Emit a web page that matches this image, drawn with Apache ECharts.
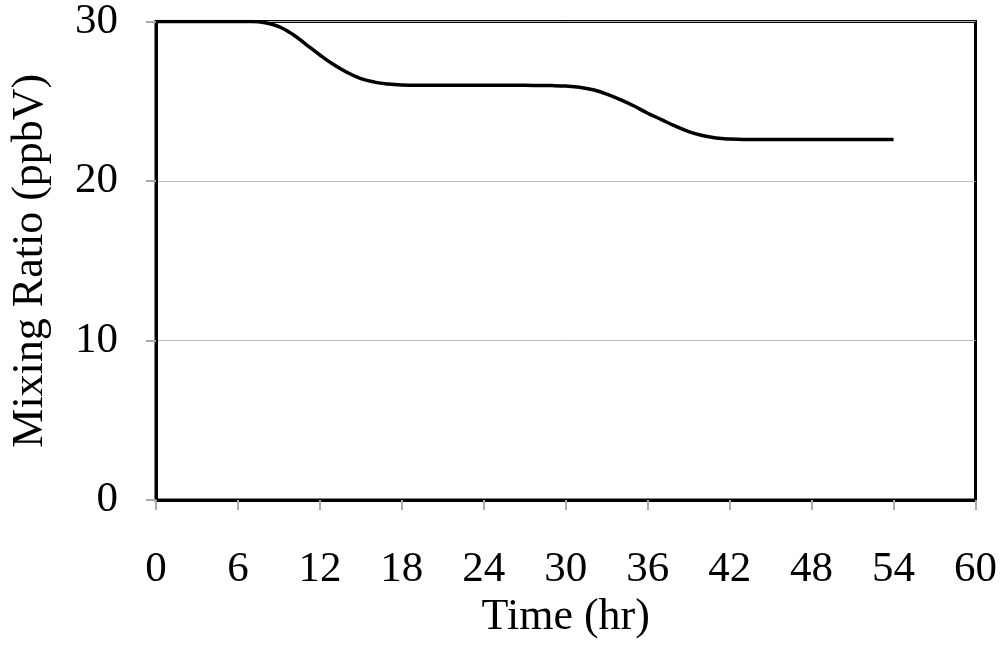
<!DOCTYPE html>
<html>
<head>
<meta charset="utf-8">
<script src="https://cdn.jsdelivr.net/npm/echarts@6/dist/echarts.min.js"></script>
<style>
html,body{margin:0;padding:0;background:#fff;}
#chart{width:1000px;height:667px;}
</style>
</head>
<body>
<div id="chart"></div>
<script>
const hours = [0,1,2,3,4,5,6,7,8,9,10,11,12,13,14,15,16,17,18,19,20,21,22,23,24,25,26,27,28,29,30,31,32,33,34,35,36,37,38,39,40,41,42,43,44,45,46,47,48,49,50,51,52,53,54];
const mixingRatio = [30,30,30,30,30,30,30,30,29.92,29.68,29.2,28.55,27.9,27.3,26.8,26.42,26.2,26.08,26.02,26.0,26.0,26.0,26.0,26.0,26.0,26.0,26.0,26.0,25.99,25.98,25.95,25.88,25.72,25.45,25.1,24.7,24.25,23.85,23.45,23.1,22.85,22.7,22.63,22.6,22.6,22.6,22.6,22.6,22.6,22.6,22.6,22.6,22.6,22.6,22.6];
const xTicks = [0,6,12,18,24,30,36,42,48,54,60];
const yTicks = [0,10,20,30];

const font = 'Liberation Serif';
const chart = echarts.init(document.getElementById('chart'));
chart.setOption({
  animation: false,
  backgroundColor: '#fff',
  grid: {left: 153, right: 24, top: 18, bottom: 167, show: true, borderColor: '#000', borderWidth: 3, backgroundColor: 'transparent'},
  xAxis: {
    type: 'value', min: xTicks[0], max: xTicks[xTicks.length-1], interval: 6,
    name: 'Time (hr)', nameLocation: 'middle', nameGap: 86,
    nameTextStyle: {fontFamily: font, fontSize: 44, color: '#000'},
    axisLine: {show: true, lineStyle: {color: '#000', width: 3}},
    axisTick: {show: true, length: 10, lineStyle: {color: '#aaa', width: 2}},
    axisLabel: {fontFamily: font, fontSize: 43, color: '#000', margin: 48},
    splitLine: {show: false}
  },
  yAxis: {
    type: 'value', min: yTicks[0], max: yTicks[yTicks.length-1], interval: 10,
    name: 'Mixing Ratio (ppbV)', nameLocation: 'middle', nameGap: 104,
    nameTextStyle: {fontFamily: font, fontSize: 44, color: '#000'},
    axisLine: {show: true, lineStyle: {color: '#000', width: 3}},
    axisTick: {show: true, length: 10, lineStyle: {color: '#aaa', width: 2}},
    axisLabel: {fontFamily: font, fontSize: 43, color: '#000', margin: 38},
    splitLine: {show: true, lineStyle: {color: '#bbb', width: 1}}
  },
  series: [{
    type: 'line',
    data: hours.map((h, i) => [h, mixingRatio[i]]),
    showSymbol: false,
    smooth: 0.4,
    lineStyle: {color: '#000', width: 3.5},
    z: 1
  }]
});
</script>
</body>
</html>
